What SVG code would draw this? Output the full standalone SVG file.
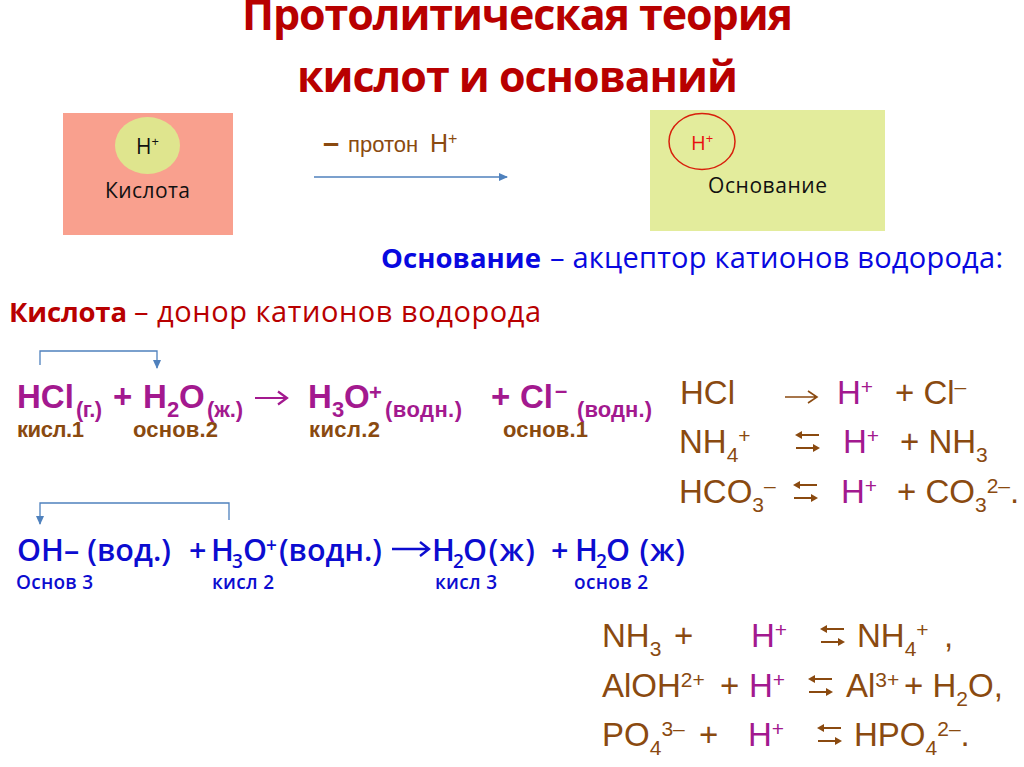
<svg xmlns="http://www.w3.org/2000/svg" width="1024" height="767" viewBox="0 0 1024 767">
<style>
text{font-family:"Liberation Sans",Arial,sans-serif;white-space:pre}
.ttl{font-family:"Open Sans","Liberation Sans",sans-serif;font-size:43px;font-weight:bold;fill:#b80000}
.cal{font-family:"Open Sans","Liberation Sans",sans-serif;fill:#111}
.def{font-family:"Open Sans","Liberation Sans",sans-serif;font-size:29px}
.defb{font-family:"Open Sans","Liberation Sans",sans-serif;font-size:27.500px;font-weight:bold}
.blu{fill:#0808e0}
.red{fill:#b80000}
.m{font-size:33px;font-weight:bold;fill:#a3198f}
.ms{font-size:22px;font-weight:bold;fill:#a3198f}
.b{font-size:22px;font-weight:bold;fill:#8a4a10}
.bl{font-family:"Open Sans","Liberation Sans",sans-serif;font-size:30.500px;font-weight:600;fill:#0c0cd0}
.bls{font-family:"Open Sans","Liberation Sans",sans-serif;font-size:19px;font-weight:600;fill:#0c0cd0}
.r{font-size:33px;fill:#8a4a10}
.rp{font-size:33px;fill:#a3198f}
.s{font-size:21px}
.ln{fill:none;stroke:#4f81bd;stroke-width:1.3}
.eq{fill:none;stroke:#8a4a10;stroke-width:2.200}
.eqh{fill:#8a4a10}
</style>
<defs>
<marker id="ah" markerWidth="10" markerHeight="8" refX="8" refY="4" orient="auto" markerUnits="userSpaceOnUse"><path d="M0 0L9 4L0 8Z" fill="#4f81bd"/></marker>
<g id="eqm"><path class="eq" d="M6 4H24M1 17H19"/><path class="eqh" d="M0 4L7 0V8ZM25 17L18 13V21Z"/></g>
</defs>
<g id="title"><text class="ttl" x="242" y="30" textLength="551">Протолитическая теория</text><text class="ttl" x="297" y="92" textLength="441">кислот и оснований</text></g>
<g id="acid"><rect x="63" y="113" width="170" height="122" fill="#f9a08e"/><ellipse cx="147.500" cy="145.500" rx="32.500" ry="28.500" fill="#dfe58e"/>
<text class="cal" x="136" y="154" font-size="21">H<tspan font-size="13" dy="-8">+</tspan></text><text class="cal" x="105" y="198" font-size="21" textLength="85">Кислота</text></g>
<g id="base"><rect x="650" y="110" width="235" height="121" fill="#e3ec9c"/><ellipse cx="702" cy="141.500" rx="33" ry="28" fill="none" stroke="#d8200c" stroke-width="1.500"/>
<text class="cal" x="691" y="150" font-size="20" style="fill:#e81010">H<tspan font-size="13" dy="-7">+</tspan></text><text class="cal" x="708" y="193" font-size="21" textLength="119">Основание</text></g>
<g id="proton"><text x="323" y="153" fill="#8a4a10" font-size="29" font-weight="bold">–</text><text x="348" y="152" fill="#8a4a10" font-size="22">протон</text><text x="430" y="152" fill="#8a4a10" font-size="25">H<tspan font-size="16" dy="-8">+</tspan></text></g>
<g id="def-base"><text class="defb blu" x="381" y="268" textLength="160">Основание</text><text class="def blu" x="550" y="268" textLength="453">– акцептор катионов водорода:</text></g>
<g id="def-acid"><text class="defb red" x="9" y="322" textLength="118">Кислота</text><text class="def red" x="134" y="322" textLength="407">– донор катионов водорода</text></g>
<g id="connectors">
<path class="ln" d="M40 365V351H157V368" marker-end="url(#ah)"/>
<path class="ln" d="M229 520V503H40V524" marker-end="url(#ah)"/>
<path class="ln" d="M314 177H507" marker-end="url(#ah)"/>
<path d="M255 398H287M278 391.500L287 398L278 404.500" fill="none" stroke="#a3198f" stroke-width="2.200"/>
<path d="M392 549H429M420 542L429 549L420 556" fill="none" stroke="#0c0cd0" stroke-width="2.400"/>
<path d="M785 397H817M808 391L817 397L808 403" fill="none" stroke="#8a4a10" stroke-width="1.600"/>
</g>
<g id="eq1">
<text class="m" x="17" y="408">HCl</text><text class="ms" x="76" y="417" textLength="26">(г.)</text><text class="m" x="113" y="408">+</text><text class="m" x="143" y="408">H</text><text class="ms" x="167" y="417" font-size="24">2</text><text class="m" x="179" y="408">O</text><text class="ms" x="207" y="417" textLength="36">(ж.)</text>
<text class="m" x="308" y="408">H</text><text class="ms" x="332" y="417">3</text><text class="m" x="344" y="408">O</text><text class="ms" x="369" y="400">+</text><text class="ms" x="385" y="417" textLength="77">(водн.)</text>
<text class="m" x="491" y="408">+</text><text class="m" x="520" y="408">Cl</text><text class="ms" x="555" y="398">–</text><text class="ms" x="577" y="417" textLength="75">(водн.)</text>
<text class="b" x="17" y="437" textLength="67">кисл.1</text><text class="b" x="133" y="437" textLength="85">основ.2</text><text class="b" x="309" y="437" textLength="71">кисл.2</text><text class="b" x="503" y="437" textLength="85">основ.1</text>
</g>
<g id="eq2">
<text class="bl" x="17" y="561" textLength="154">OH– (вод.)</text><text class="bl" x="189" y="561">+</text><text class="bl" x="211" y="561">H</text><text class="bls" x="232" y="568">3</text><text class="bl" x="243" y="561">O</text><text class="bls" x="266" y="552">+</text><text class="bl" x="279" y="561" textLength="103">(водн.)</text>
<text class="bl" x="432" y="561">H</text><text class="bls" x="453" y="568">2</text><text class="bl" x="463" y="561" textLength="72">O(ж)</text><text class="bl" x="551" y="561">+</text><text class="bl" x="575" y="561">H</text><text class="bls" x="596" y="568">2</text><text class="bl" x="606" y="561" textLength="79">O (ж)</text>
<text class="bls" x="16" y="589" textLength="77">Основ 3</text><text class="bls" x="212" y="589" textLength="62">кисл 2</text><text class="bls" x="435" y="589" textLength="62">кисл 3</text><text class="bls" x="574" y="589" textLength="74">основ 2</text>
</g>
<g id="dissociation">
<text class="r" x="680" y="404">HCl</text><text class="rp" x="837" y="404">H<tspan class="s" dy="-10">+</tspan></text><text class="r" x="895" y="404">+ Cl<tspan class="s" dy="-10">–</tspan></text>
<text class="r" x="679" y="453">NH<tspan class="s" dy="9">4</tspan><tspan class="s" dy="-19">+</tspan></text><use href="#eqm" x="795" y="431"/><text class="rp" x="843" y="453">H<tspan class="s" dy="-10">+</tspan></text><text class="r" x="900" y="453">+ NH<tspan class="s" dy="9">3</tspan></text>
<text class="r" x="679" y="503">HCO<tspan class="s" dy="9">3</tspan><tspan class="s" dy="-19">–</tspan></text><use href="#eqm" x="793" y="481"/><text class="rp" x="841" y="503">H<tspan class="s" dy="-10">+</tspan></text><text class="r" x="897" y="503">+ CO<tspan class="s" dy="9">3</tspan><tspan class="s" dy="-19">2–</tspan><tspan dy="10">.</tspan></text>
</g>
<g id="protonation">
<text class="r" x="602" y="647">NH<tspan class="s" dy="9">3</tspan></text><text class="r" x="674" y="647">+</text><text class="rp" x="751" y="647">H<tspan class="s" dy="-10">+</tspan></text><use href="#eqm" x="820" y="625"/><text class="r" x="857" y="647">NH<tspan class="s" dy="9">4</tspan><tspan class="s" dy="-19">+</tspan></text><text class="r" x="944" y="647">,</text>
<text class="r" x="602" y="697">AlOH<tspan class="s" dy="-10">2+</tspan></text><text class="r" x="720" y="697">+</text><text class="rp" x="749" y="697">H<tspan class="s" dy="-10">+</tspan></text><use href="#eqm" x="808" y="675"/><text class="r" x="846" y="697">Al<tspan class="s" dy="-10">3+</tspan></text><text class="r" x="904" y="697">+ H<tspan class="s" dy="9">2</tspan><tspan dy="-9">O,</tspan></text>
<text class="r" x="602" y="746">PO<tspan class="s" dy="9">4</tspan><tspan class="s" dy="-19">3–</tspan></text><text class="r" x="699" y="746">+</text><text class="rp" x="748" y="746">H<tspan class="s" dy="-10">+</tspan></text><use href="#eqm" x="817" y="724"/><text class="r" x="854" y="746">HPO<tspan class="s" dy="9">4</tspan><tspan class="s" dy="-19">2–</tspan><tspan dy="10">.</tspan></text>
</g>
</svg>
